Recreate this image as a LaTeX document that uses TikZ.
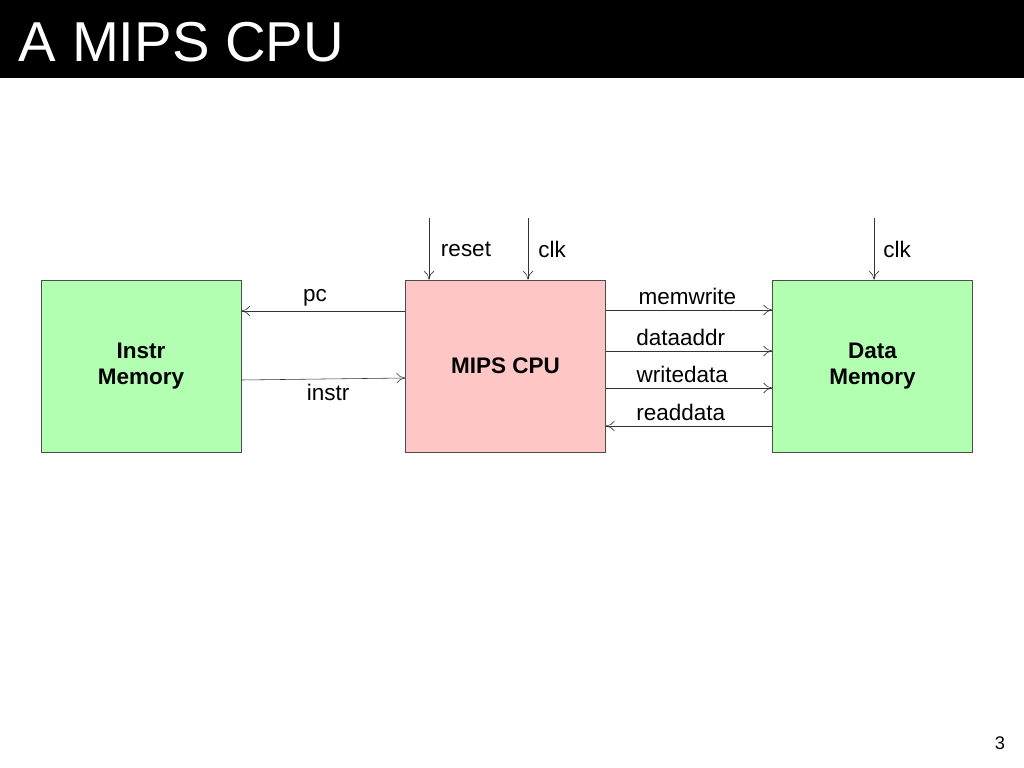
\documentclass[tikz,border=0pt]{standalone}
\usepackage{fontspec}
\setmainfont{Liberation Sans}
\usetikzlibrary{arrows.meta, positioning}
\newcommand{\sigArrow}{{To[length=2.2mm, width=2.6mm]}}

\begin{document}
\begin{tikzpicture}[x=0.025cm, y=-0.025cm, font=\fontsize{16}{19}\selectfont,
	block/.style={draw=black!70, minimum width=5cm, minimum height=4.3cm, align=center, font=\fontsize{16}{19}\selectfont\bfseries},
	sig/.style={-\sigArrow, draw=black!80, thin}]
	\useasboundingbox (0,0) rectangle (1024,768);
	% title bar
	\fill[black] (0,0) rectangle (1024,78);
	\node[anchor=west, text=white, font=\fontsize{40}{44}\selectfont] (title) at (14,42) {A MIPS CPU};
	\node (page) at (1000,743) {\fontsize{13}{15}\selectfont 3};

	% blocks
	\node[block, fill=green!30!white] (imem) at (141,366) {Instr\\Memory};
	\node[block, fill=pink!90!white] (cpu) at (505.5,366) {MIPS CPU};
	\node[block, fill=green!30!white] (dmem) at (872.5,366) {Data\\Memory};

	% inputs from above
	\coordinate (rst) at (429,218);
	\coordinate (clka) at (528,218);
	\coordinate (clkb) at (874,218);
	\draw[sig] (rst) -- (rst |- cpu.north);
	\draw[sig] (clka) -- (clka |- cpu.north);
	\draw[sig] (clkb) -- (clkb |- dmem.north);
	\node at (466,249) {reset};
	\node at (552,249) {clk};
	\node at (897,249) {clk};

	% instruction memory side
	\draw[sig] (cpu.west |- 0,311) -- (imem.east |- 0,311) node[pos=0.55, above] {pc};
	\draw[sig] (imem.east |- 0,380) -- (cpu.west |- 0,378) node[pos=0.53, below] {instr};

	% data memory side
	\draw[sig] (cpu.east |- 0,310) -- (dmem.west |- 0,310) node[pos=0.49, above] {memwrite};
	\draw[sig] (cpu.east |- 0,351) -- (dmem.west |- 0,351) node[pos=0.45, above] {dataaddr};
	\draw[sig] (cpu.east |- 0,388) -- (dmem.west |- 0,388) node[pos=0.46, above] {writedata};
	\draw[sig] (dmem.west |- 0,426) -- (cpu.east |- 0,426) node[pos=0.55, above] {readdata};
\end{tikzpicture}
\end{document}
